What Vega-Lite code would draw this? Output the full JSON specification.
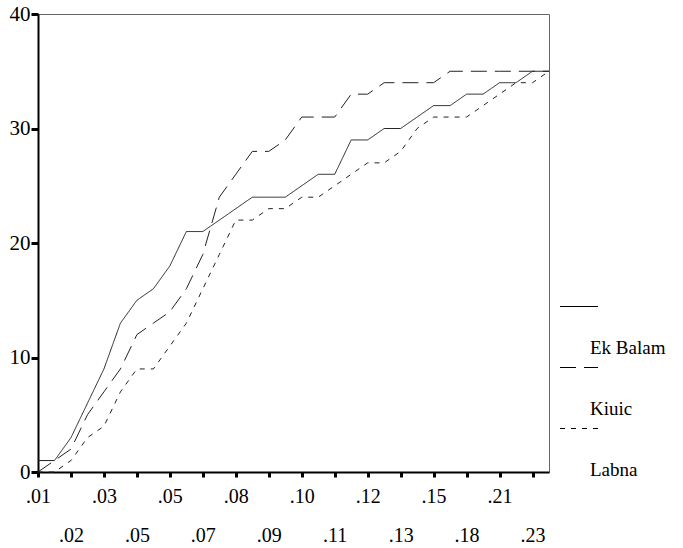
{
  "$schema": "https://vega.github.io/schema/vega-lite/v6.json",
  "width": 511,
  "height": 458,
  "autosize": {"type": "none"},
  "padding": {"left": 38, "top": 14, "right": 134, "bottom": 76},
  "background": "white",
  "config": {
    "font": "Liberation Serif, serif",
    "view": {"stroke": "#666666", "strokeWidth": 1},
    "style": {"guide-label": {"lineHeight": 82, "font": "Liberation Serif, serif"}}
  },
  "data": {
    "values": [
      {"k":0,"site":"Ek Balam","n":1},{"k":1,"site":"Ek Balam","n":1},{"k":2,"site":"Ek Balam","n":3},{"k":3,"site":"Ek Balam","n":6},
      {"k":4,"site":"Ek Balam","n":9},{"k":5,"site":"Ek Balam","n":13},{"k":6,"site":"Ek Balam","n":15},{"k":7,"site":"Ek Balam","n":16},
      {"k":8,"site":"Ek Balam","n":18},{"k":9,"site":"Ek Balam","n":21},{"k":10,"site":"Ek Balam","n":21},{"k":11,"site":"Ek Balam","n":22},
      {"k":12,"site":"Ek Balam","n":23},{"k":13,"site":"Ek Balam","n":24},{"k":14,"site":"Ek Balam","n":24},{"k":15,"site":"Ek Balam","n":24},
      {"k":16,"site":"Ek Balam","n":25},{"k":17,"site":"Ek Balam","n":26},{"k":18,"site":"Ek Balam","n":26},{"k":19,"site":"Ek Balam","n":29},
      {"k":20,"site":"Ek Balam","n":29},{"k":21,"site":"Ek Balam","n":30},{"k":22,"site":"Ek Balam","n":30},{"k":23,"site":"Ek Balam","n":31},
      {"k":24,"site":"Ek Balam","n":32},{"k":25,"site":"Ek Balam","n":32},{"k":26,"site":"Ek Balam","n":33},{"k":27,"site":"Ek Balam","n":33},
      {"k":28,"site":"Ek Balam","n":34},{"k":29,"site":"Ek Balam","n":34},{"k":30,"site":"Ek Balam","n":35},{"k":31,"site":"Ek Balam","n":35},
      {"k":0,"site":"Kiuic","n":0},{"k":1,"site":"Kiuic","n":1},{"k":2,"site":"Kiuic","n":2},{"k":3,"site":"Kiuic","n":5},
      {"k":4,"site":"Kiuic","n":7},{"k":5,"site":"Kiuic","n":9},{"k":6,"site":"Kiuic","n":12},{"k":7,"site":"Kiuic","n":13},
      {"k":8,"site":"Kiuic","n":14},{"k":9,"site":"Kiuic","n":16},{"k":10,"site":"Kiuic","n":19},{"k":11,"site":"Kiuic","n":24},
      {"k":12,"site":"Kiuic","n":26},{"k":13,"site":"Kiuic","n":28},{"k":14,"site":"Kiuic","n":28},{"k":15,"site":"Kiuic","n":29},
      {"k":16,"site":"Kiuic","n":31},{"k":17,"site":"Kiuic","n":31},{"k":18,"site":"Kiuic","n":31},{"k":19,"site":"Kiuic","n":33},
      {"k":20,"site":"Kiuic","n":33},{"k":21,"site":"Kiuic","n":34},{"k":22,"site":"Kiuic","n":34},{"k":23,"site":"Kiuic","n":34},
      {"k":24,"site":"Kiuic","n":34},{"k":25,"site":"Kiuic","n":35},{"k":26,"site":"Kiuic","n":35},{"k":27,"site":"Kiuic","n":35},
      {"k":28,"site":"Kiuic","n":35},{"k":29,"site":"Kiuic","n":35},{"k":30,"site":"Kiuic","n":35},{"k":31,"site":"Kiuic","n":35},
      {"k":0,"site":"Labna","n":0},{"k":1,"site":"Labna","n":0},{"k":2,"site":"Labna","n":1},{"k":3,"site":"Labna","n":3},
      {"k":4,"site":"Labna","n":4},{"k":5,"site":"Labna","n":7},{"k":6,"site":"Labna","n":9},{"k":7,"site":"Labna","n":9},
      {"k":8,"site":"Labna","n":11},{"k":9,"site":"Labna","n":13},{"k":10,"site":"Labna","n":16},{"k":11,"site":"Labna","n":19},
      {"k":12,"site":"Labna","n":22},{"k":13,"site":"Labna","n":22},{"k":14,"site":"Labna","n":23},{"k":15,"site":"Labna","n":23},
      {"k":16,"site":"Labna","n":24},{"k":17,"site":"Labna","n":24},{"k":18,"site":"Labna","n":25},{"k":19,"site":"Labna","n":26},
      {"k":20,"site":"Labna","n":27},{"k":21,"site":"Labna","n":27},{"k":22,"site":"Labna","n":28},{"k":23,"site":"Labna","n":30},
      {"k":24,"site":"Labna","n":31},{"k":25,"site":"Labna","n":31},{"k":26,"site":"Labna","n":31},{"k":27,"site":"Labna","n":32},
      {"k":28,"site":"Labna","n":33},{"k":29,"site":"Labna","n":34},{"k":30,"site":"Labna","n":34},{"k":31,"site":"Labna","n":35}
    ]
  },
  "mark": {"type": "line", "strokeWidth": 1, "color": "#222222"},
  "encoding": {
    "x": {
      "field": "k",
      "type": "ordinal",
      "sort": "ascending",
      "scale": {"type": "point", "padding": 0},
      "axis": {
        "title": null,
        "values": [0,2,4,6,8,10,12,14,16,18,20,22,24,26,28,30],
        "labelExpr": "['.01','.02','.03','.05','.05','.07','.08','.09','.10','.11','.12','.13','.15','.18','.21','.23'][datum.value/2]",
        "labelAngle": 0,
        "labelFont": "Liberation Serif, serif",
        "labelFontSize": 20,
        "labelColor": "black",
        "labelOverlap": false,
        "labelBound": false,
        "labelFlush": false,
        "labelPadding": {"condition": {"test": "datum.value % 4 == 2", "value": 48}, "value": 9},
        "tickSize": 5,
        "tickWidth": 3,
        "tickColor": "black",
        "domainColor": "black",
        "domainWidth": 2,
        "grid": false
      }
    },
    "y": {
      "field": "n",
      "type": "quantitative",
      "scale": {"domain": [0, 40], "nice": false},
      "axis": {
        "title": null,
        "values": [0, 10, 20, 30, 40],
        "labelFont": "Liberation Serif, serif",
        "labelFontSize": 21,
        "labelColor": "black",
        "labelPadding": 1,
        "tickSize": 7,
        "tickWidth": 3,
        "tickColor": "black",
        "domainColor": "black",
        "domainWidth": 2,
        "grid": false
      }
    },
    "strokeDash": {
      "field": "site",
      "type": "nominal",
      "scale": {"domain": ["Ek Balam", "Kiuic", "Labna"], "range": [[1, 0], [16, 8], [5, 6]]},
      "legend": {
        "orient": "none",
        "legendX": 531.5,
        "legendY": 283,
        "title": null,
        "padding": 0,
        "symbolType": "M-9.5,0H9.5",
        "symbolSize": 16,
        "symbolStrokeWidth": 1,
        "symbolStrokeColor": "black",
        "labelFont": "Liberation Serif, serif",
        "labelFontSize": 19,
        "labelColor": "black",
        "labelBaseline": "line-top",
        "labelOffset": 1.5,
        "rowPadding": 0
      }
    }
  }
}
